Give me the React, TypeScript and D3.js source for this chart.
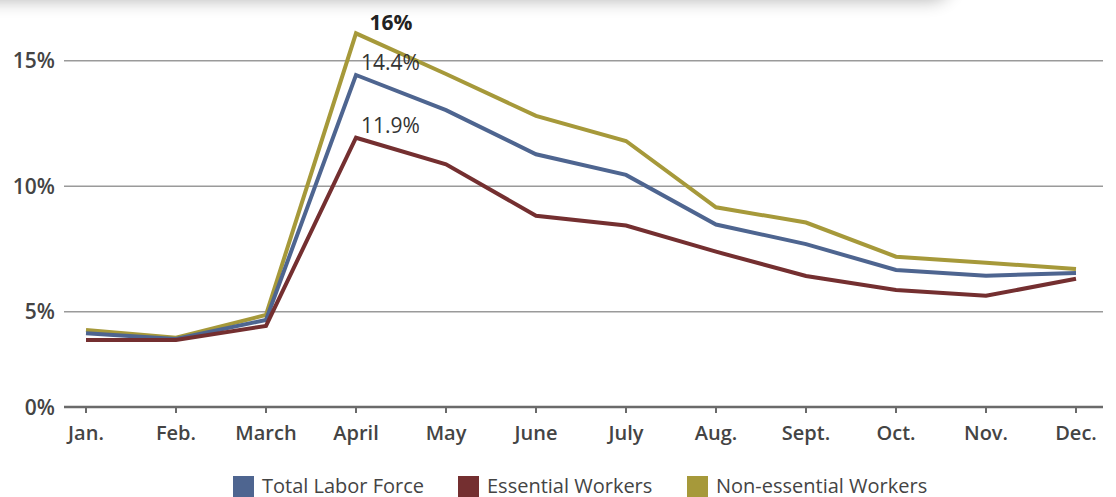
import React, { useRef, useEffect } from 'react';
import * as d3 from 'd3';

const months = ['Jan.', 'Feb.', 'March', 'April', 'May', 'June', 'July', 'Aug.', 'Sept.', 'Oct.', 'Nov.', 'Dec.'];
const totalLaborForce = [4.14, 3.91, 4.67, 14.43, 13.03, 11.27, 10.45, 8.47, 7.69, 6.66, 6.43, 6.54];
const essentialWorkers = [3.87, 3.87, 4.43, 11.93, 10.87, 8.82, 8.43, 7.39, 6.42, 5.86, 5.63, 6.31];
const nonEssentialWorkers = [4.27, 3.96, 4.87, 16.09, 14.47, 12.8, 11.8, 9.16, 8.55, 7.19, 6.95, 6.7];
const yTicks = [5, 10, 15];
const yTickLabels = ['5%', '10%', '15%'];
const baseLabel = '0%';
const seriesNames = ['Total Labor Force', 'Essential Workers', 'Non-essential Workers'];
const seriesColors = ['#4e6590', '#742f30', '#a6993a'];
const peakLabels = ['14.4%', '11.9%', '16%'];

function App() {
  const chartRef = useRef<SVGSVGElement>(null);

  useEffect(() => {
    const svg = d3.select(chartRef.current);
    svg.selectAll('*').remove();
    const font = '"Open Sans", "Noto Sans", sans-serif';

    const x = d3.scalePoint().domain(months).range([86, 1076]);
    const y = d3.scaleLinear().domain([1.2, 15]).range([407, 60.7]);

    // shadow of the header above
    const defs = svg.append('defs');
    const f = defs.append('filter').attr('id', 'blur').attr('x', '-20%').attr('y', '-200%')
      .attr('width', '140%').attr('height', '500%');
    f.append('feGaussianBlur').attr('stdDeviation', 9);
    svg.append('rect')
      .attr('x', -60).attr('y', -34).attr('width', 1010).attr('height', 34)
      .attr('rx', 20)
      .attr('fill', '#000').attr('opacity', 0.3)
      .attr('filter', 'url(#blur)');

    // grid
    svg.selectAll('.grid').data(yTicks).enter().append('line')
      .attr('x1', 64).attr('x2', 1103)
      .attr('y1', (d) => y(d)).attr('y2', (d) => y(d))
      .attr('stroke', '#9a9a9a').attr('stroke-width', 1.5);

    svg.selectAll('.ylab').data(yTicks).enter().append('text')
      .attr('x', 55).attr('y', (d) => y(d) + 7.5)
      .attr('text-anchor', 'end')
      .attr('font-family', font).attr('font-weight', 600).attr('font-size', 21)
      .attr('fill', '#444')
      .text((d, i) => yTickLabels[i]);

    // baseline axis
    const base = y.domain()[0];
    svg.append('line')
      .attr('x1', 64).attr('x2', 1103)
      .attr('y1', y(base)).attr('y2', y(base))
      .attr('stroke', '#6a6a6a').attr('stroke-width', 2.5);
    svg.append('text')
      .attr('x', 55).attr('y', y(base) + 7.5)
      .attr('text-anchor', 'end')
      .attr('font-family', font).attr('font-weight', 600).attr('font-size', 21)
      .attr('fill', '#444')
      .text(baseLabel);

    svg.selectAll('.tick').data(months).enter().append('line')
      .attr('x1', (d) => x(d)).attr('x2', (d) => x(d))
      .attr('y1', y(base)).attr('y2', y(base) + 6)
      .attr('stroke', '#6a6a6a').attr('stroke-width', 2);

    svg.selectAll('.xlab').data(months).enter().append('text')
      .attr('x', (d) => x(d)).attr('y', 440)
      .attr('text-anchor', 'middle')
      .attr('font-family', font).attr('font-weight', 600).attr('font-size', 20)
      .attr('fill', '#444')
      .text((d) => d);

    // lines
    const line = d3.line<number>()
      .x((d, i) => x(months[i]))
      .y((d) => y(d));
    const series = [totalLaborForce, essentialWorkers, nonEssentialWorkers];
    [2, 0, 1].forEach((k) => {
      svg.append('path')
        .datum(series[k])
        .attr('d', line)
        .attr('fill', 'none')
        .attr('stroke', seriesColors[k])
        .attr('stroke-width', 4)
        .attr('stroke-linejoin', 'miter');
    });

    // peak labels
    const apr = x('April');
    svg.append('text')
      .attr('x', apr + 35).attr('y', 30)
      .attr('text-anchor', 'middle')
      .attr('font-family', font).attr('font-weight', 700).attr('font-size', 21)
      .attr('fill', '#222')
      .text(peakLabels[2]);
    [0, 1].forEach((k) => {
      svg.append('text')
        .attr('x', apr + 5).attr('y', y(series[k][3]) - 5)
        .attr('font-family', font).attr('font-size', 21)
        .attr('fill', '#333')
        .text(peakLabels[k]);
    });

    // legend
    const lx = [233, 458, 687];
    seriesNames.forEach((n, i) => {
      svg.append('rect')
        .attr('x', lx[i]).attr('y', 476).attr('width', 21).attr('height', 22)
        .attr('fill', seriesColors[i]);
      svg.append('text')
        .attr('x', lx[i] + 29).attr('y', 492.5)
        .attr('font-family', font).attr('font-size', 20)
        .attr('fill', '#444')
        .text(n);
    });
  }, []);

  return (
    <svg ref={chartRef} width={1116} height={497}
      style={{ position: 'absolute', left: 0, top: 0, background: '#fff' }} />
  );
}

export default App;
